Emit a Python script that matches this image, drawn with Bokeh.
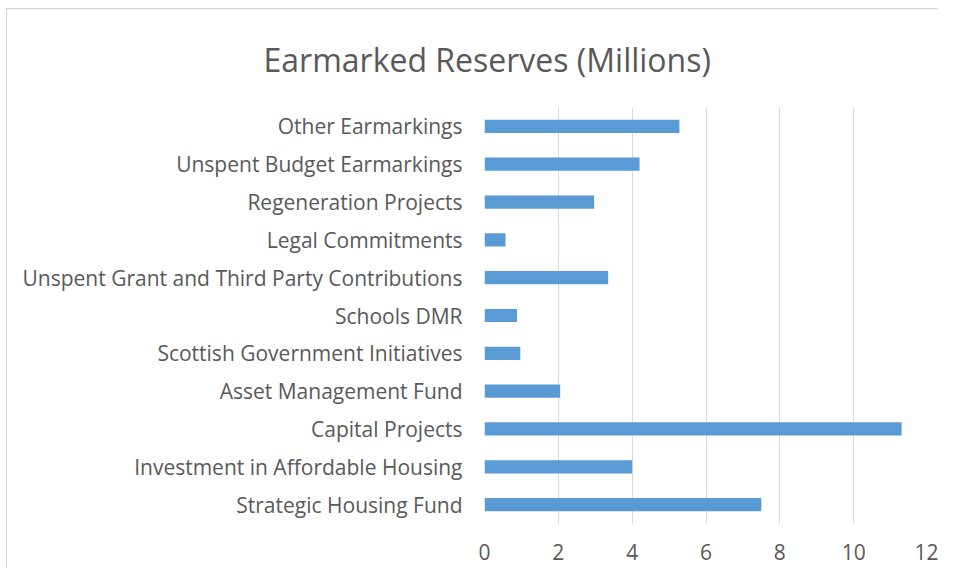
from bokeh.plotting import figure
from bokeh.models import Title, FixedTicker
from bokeh.embed import file_html
from bokeh.resources import INLINE

categories = [
    "Strategic Housing Fund",
    "Investment in Affordable Housing",
    "Capital Projects",
    "Asset Management Fund",
    "Scottish Government Initiatives",
    "Schools DMR",
    "Unspent Grant and Third Party Contributions",
    "Legal Commitments",
    "Regeneration Projects",
    "Unspent Budget Earmarkings",
    "Other Earmarkings",
]
values = [7.5, 4.0, 11.3, 2.05, 0.97, 0.88, 3.35, 0.57, 2.97, 4.2, 5.28]
x_ticks = [0, 2, 4, 6, 8, 10, 12]
title_text = "Earmarked Reserves (Millions)"

FONT = "Open Sans"
TXT = "#595959"

p = figure(
    width=932, height=560,
    y_range=categories, x_range=(0, 12),
    output_backend="svg", toolbar_location=None,
    min_border_left=477, min_border_right=12,
    min_border_top=97, min_border_bottom=46,
)
p.styles = {"border-top": "1px solid #d4d4d4", "border-left": "1px solid #d4d4d4",
            "margin-left": "6px", "margin-top": "8px"}

p.hbar(y=categories, right=values, left=0, height=0.35,
       fill_color="#5b9bd5", line_color=None)

p.outline_line_color = None
p.xgrid.grid_line_color = "#d9d9d9"
p.xgrid.grid_line_width = 1
p.ygrid.grid_line_color = None

p.xaxis.ticker = FixedTicker(ticks=x_ticks)
p.xaxis.axis_line_color = None
p.xaxis.major_tick_line_color = None
p.xaxis.minor_tick_line_color = None
p.xaxis.major_label_text_font = FONT
p.xaxis.major_label_text_font_size = "21px"
p.xaxis.major_label_text_color = TXT
p.xaxis.major_label_standoff = 14

p.yaxis.axis_line_color = None
p.yaxis.major_tick_line_color = None
p.yaxis.minor_tick_line_color = None
p.yaxis.major_label_text_font = FONT
p.yaxis.major_label_text_font_size = "21px"
p.yaxis.major_label_text_color = TXT
p.yaxis.major_label_standoff = 16

t = Title(text=title_text, align="left", offset=-221, standoff=53,
          text_font=FONT, text_font_size="32px", text_font_style="normal",
          text_color=TXT)
p.add_layout(t, "above")

open("out.html", "w").write(file_html(p, INLINE))
